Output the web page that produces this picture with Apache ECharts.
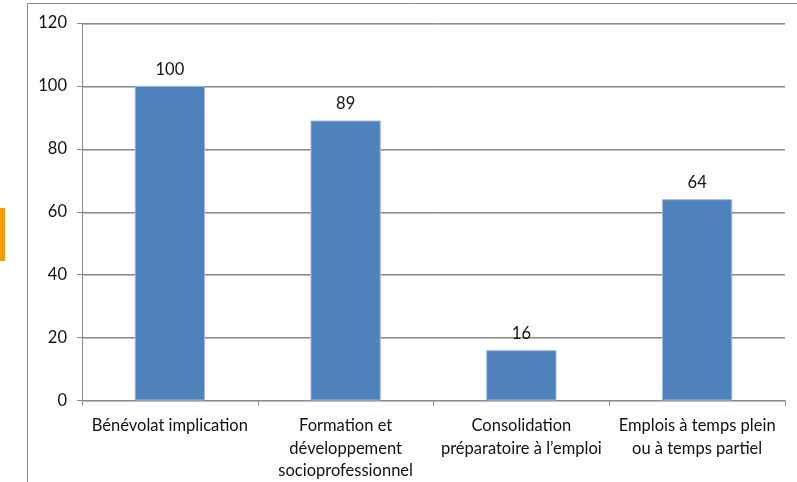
<!DOCTYPE html>
<html>
<head>
<meta charset="utf-8">
<script src="https://cdn.jsdelivr.net/npm/echarts@6/dist/echarts.min.js"></script>
<style>
html,body{margin:0;padding:0;background:#fff;}
#c{width:797px;height:482px;}
</style>
</head>
<body>
<div id="c"></div>
<script>
const categories = [
  "Bénévolat implication",
  "Formation et\ndéveloppement\nsocioprofessionnel",
  "Consolidation\npréparatoire à l’emploi",
  "Emplois à temps plein\nou à temps partiel"
];
const values = [100, 89, 16, 64];
const yTicks = [0, 20, 40, 60, 80, 100, 120];

const chart = echarts.init(document.getElementById('c'), null, {renderer: 'canvas'});
const font = 'Lato, "Open Sans", "Liberation Sans", sans-serif';
chart.setOption({
  animation: false,
  backgroundColor: '#ffffff',
  textStyle: {fontFamily: font},
  grid: {left: 82, right: 12, top: 23, bottom: 80, containLabel: false},
  graphic: [
    {type: 'line', shape: {x1: 27.5, y1: 3.5, x2: 797, y2: 3.5}, style: {stroke: '#8a8a8a', lineWidth: 1}},
    {type: 'line', shape: {x1: 27.5, y1: 3.5, x2: 27.5, y2: 482}, style: {stroke: '#8a8a8a', lineWidth: 1}},
    {type: 'rect', shape: {x: 0, y: 208, width: 5, height: 53}, style: {fill: '#F59A00'}}
  ],
  xAxis: {
    type: 'category',
    data: categories,
    boundaryGap: true,
    axisLine: {lineStyle: {color: '#8a8a8a', width: 1}},
    axisTick: {show: true, length: 5, lineStyle: {color: '#8a8a8a'}},
    axisLabel: {color: '#111', fontSize: 16.5, lineHeight: 22.5, margin: 14, fontFamily: font, interval: 0}
  },
  yAxis: {
    type: 'value',
    min: yTicks[0],
    max: yTicks[yTicks.length - 1],
    interval: 20,
    axisLine: {show: true, lineStyle: {color: '#8a8a8a', width: 1}},
    axisTick: {show: true, length: 5, lineStyle: {color: '#8a8a8a'}},
    axisLabel: {color: '#111', fontSize: 16.5, margin: 15, fontFamily: font},
    splitLine: {show: true, lineStyle: {color: '#8a8a8a', width: 1, shadowColor: 'rgba(0,0,0,0.25)', shadowOffsetY: 1, shadowBlur: 0}}
  },
  series: [{
    type: 'bar',
    data: values,
    barWidth: '40%',
    itemStyle: {color: '#4F81BD', borderColor: '#9FB9DB', borderWidth: 1},
    label: {show: true, position: 'top', distance: 8, color: '#111', fontSize: 16.5, fontFamily: font}
  }]
});
</script>
</body>
</html>
